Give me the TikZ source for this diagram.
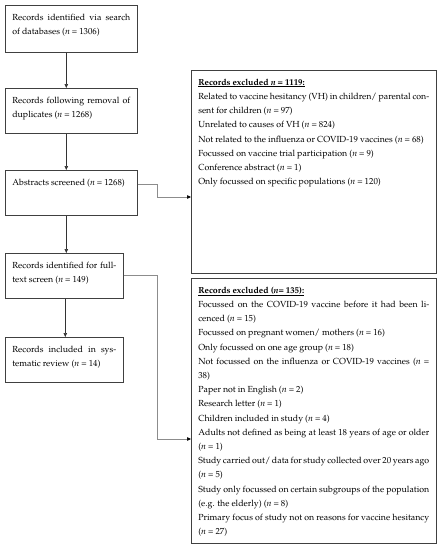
\documentclass[tikz,border=0pt]{standalone}
\usepackage[T1]{fontenc}
\usepackage{mathpazo}
\usepackage{xcolor}
\usetikzlibrary{arrows.meta}

\newcommand{\boxfont}{\fontsize{8.8}{14.2}\selectfont\spaceskip=0.23em plus 0.4em minus 0.12em\relax}

\begin{document}
\begin{tikzpicture}[x=1pt, y=-1pt, font=\boxfont,
    stage/.style={rectangle, draw=black!75, line width=0.6pt, anchor=north west, align=justify, inner xsep=7pt, inner ysep=5pt, text height=10pt},
    down/.style={draw=black!80, line width=0.6pt, -{Triangle[length=4pt, width=3.5pt]}},
    elbow/.style={draw=black!45, line width=0.6pt, -{Triangle[length=4pt, width=3.5pt, color=black]}}]
    \useasboundingbox (0,0) rectangle (442,550);

    \node[stage, text width=118pt, text depth=27pt] (search) at (5,5) {Records identified via search\linebreak of databases (\textit{n} = 1306)};
    \node[stage, text width=118pt, text depth=25pt] (dedup) at (5,88) {Records following removal of\linebreak duplicates (\textit{n} = 1268)};
    \node[stage, text width=118pt, text depth=25pt] (abstracts) at (5,170) {Abstracts screened (\textit{n} = 1268)};
    \node[stage, text width=104pt, text depth=25pt] (fulltext) at (5,253) {Records identified for full-\linebreak text screen (\textit{n} = 149)};
    \node[stage, text width=104pt, text depth=25pt] (included) at (5,337) {Records included in sys-\linebreak tematic review (\textit{n} = 14)};

    \node[stage, text width=231pt, text depth=183pt] (excl1) at (191,70) {\underline{\textbf{Records excluded \textit{n} = 1119:}}\\
        Related to vaccine hesitancy (VH) in children/ parental con-\linebreak sent for children (\textit{n} = 97)\\
        Unrelated to causes of VH (\textit{n} = 824)\\
        Not related to the influenza or COVID-19 vaccines (\textit{n} = 68)\\
        Focussed on vaccine trial participation (\textit{n} = 9)\\
        Conference abstract (\textit{n} = 1)\\
        Only focussed on specific populations (\textit{n} = 120)};
    \node[stage, text width=231pt, text depth=245pt] (excl2) at (191,278) {\underline{\textbf{Records excluded (\textit{n}= 135):}}\\
        Focussed on the COVID-19 vaccine before it had been li-\linebreak cenced (\textit{n} = 15)\\
        Focussed on pregnant women/ mothers (\textit{n} = 16)\\
        Only focussed on one age group (\textit{n} = 18)\\
        Not focussed on the influenza or COVID-19 vaccines (\textit{n} =\linebreak 38)\\
        Paper not in English (\textit{n} = 2)\\
        Research letter (\textit{n} = 1)\\
        Children included in study (\textit{n} = 4)\\
        Adults not defined as being at least 18 years of age or older\linebreak (\textit{n} = 1)\\
        Study carried out/ data for study collected over 20 years ago\linebreak (\textit{n} = 5)\\
        Study only focussed on certain subgroups of the population\linebreak (e.g. the elderly) (\textit{n} = 8)\\
        Primary focus of study not on reasons for vaccine hesitancy\linebreak (\textit{n} = 27)};

    \coordinate (bend1) at (157,197);
    \coordinate (bend2) at (157,439);

    \draw[down] ([xshift=-5pt]search.south) -- ([xshift=-5pt]dedup.north);
    \draw[down] ([xshift=-5pt]dedup.south) -- ([xshift=-5pt]abstracts.north);
    \draw[down] ([xshift=-5pt]abstracts.south) -- ([xshift=-5pt]abstracts.south |- fulltext.north);
    \draw[down] ([xshift=1pt]fulltext.south) -- ([xshift=1pt]included.north);
    \draw[elbow] ([yshift=-14pt]abstracts.north east) -| (bend1) -- (bend1 -| excl1.west);
    \draw[elbow] ([yshift=-22pt]fulltext.north east) -| (bend2) -- (bend2 -| excl2.west);
\end{tikzpicture}
\end{document}
